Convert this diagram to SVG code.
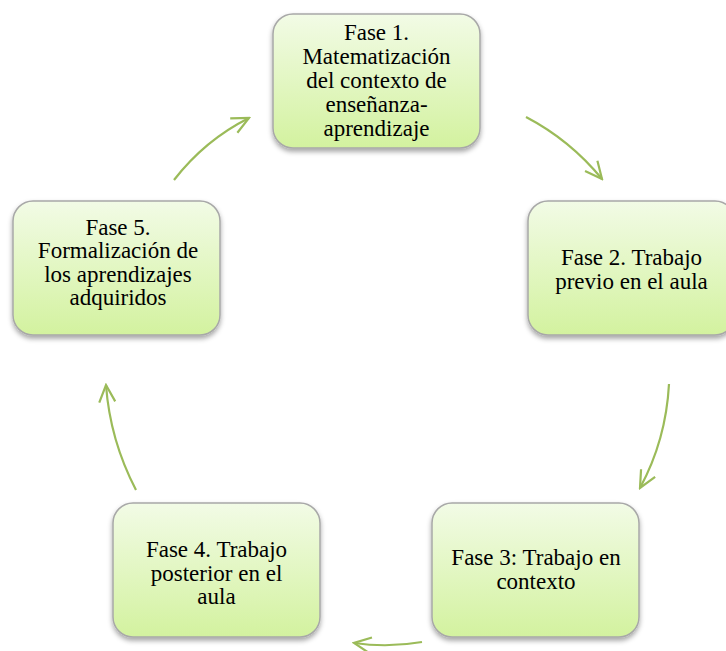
<svg xmlns="http://www.w3.org/2000/svg" width="726" height="651" viewBox="0 0 726 651">
<style>
.box{fill:url(#g);stroke:#a8a8a8;stroke-width:1.5;filter:url(#sh)}
.t{font-family:"Liberation Serif","Times New Roman",serif;font-size:23px;fill:#000;text-anchor:middle}
.c{fill:none;stroke:#9bbb59;stroke-width:2.2;marker-end:url(#ah)}
</style>
<defs>
<linearGradient id="g" x1="0" y1="0" x2="0" y2="1">
<stop offset="0" stop-color="#f2fbe6"/>
<stop offset="1" stop-color="#d3f29f"/>
</linearGradient>
<filter id="sh" x="-10%" y="-10%" width="120%" height="130%">
<feDropShadow dx="0" dy="3" stdDeviation="2.5" flood-color="#000" flood-opacity="0.35"/>
</filter>
<marker id="ah" viewBox="0 0 20 20" refX="18" refY="10" markerWidth="20" markerHeight="20" markerUnits="userSpaceOnUse" orient="auto">
<path d="M1,2 L18,10 L1,18" fill="none" stroke="#9bbb59" stroke-width="2.2"/>
</marker>
</defs>
<g id="connectors">
<path class="c" d="M526,117 Q570,140 602,179"/>
<path class="c" d="M669,384 Q666,440 640,488"/>
<path class="c" d="M422,642 Q388,648 354,643"/>
<path class="c" d="M136,490 Q110,440 106,385"/>
<path class="c" d="M174,180 Q205,140 249,118"/>
</g>
<g id="fase1">
<rect class="box" x="273" y="14" width="207" height="134" rx="20"/>
<text class="t" x="376.5" y="40">Fase 1.</text>
<text class="t" x="376.5" y="64">Matematización</text>
<text class="t" x="376.5" y="88">del contexto de</text>
<text class="t" x="376.5" y="112">enseñanza-</text>
<text class="t" x="376.5" y="136">aprendizaje</text>
</g>
<g id="fase2">
<rect class="box" x="528" y="201" width="207" height="134" rx="20"/>
<text class="t" x="631.5" y="265">Fase 2. Trabajo</text>
<text class="t" x="631.5" y="289">previo en el aula</text>
</g>
<g id="fase3">
<rect class="box" x="432" y="503" width="207" height="134" rx="20"/>
<text class="t" x="536" y="565">Fase 3: Trabajo en</text>
<text class="t" x="536" y="589">contexto</text>
</g>
<g id="fase4">
<rect class="box" x="113" y="503" width="207" height="134" rx="20"/>
<text class="t" x="216.5" y="557">Fase 4. Trabajo</text>
<text class="t" x="216.5" y="581">posterior en el</text>
<text class="t" x="216.5" y="604">aula</text>
</g>
<g id="fase5">
<rect class="box" x="13" y="201" width="207" height="134" rx="20"/>
<text class="t" x="118" y="235">Fase 5.</text>
<text class="t" x="118" y="258">Formalización de</text>
<text class="t" x="118" y="282">los aprendizajes</text>
<text class="t" x="118" y="305">adquiridos</text>
</g>
</svg>
